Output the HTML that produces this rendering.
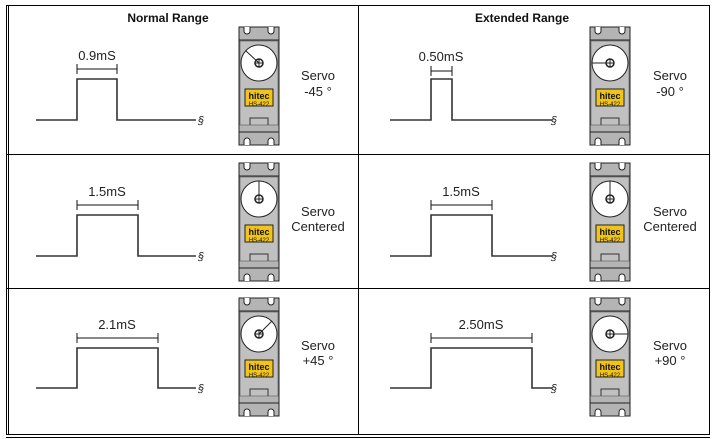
<!DOCTYPE html>
<html><head><meta charset="utf-8"><style>
html,body{margin:0;padding:0;background:#fff;}
svg{display:block;font-family:"Liberation Sans",Arial,sans-serif;}
</style></head><body>
<svg width="716" height="439" viewBox="0 0 716 439" xmlns="http://www.w3.org/2000/svg">
<defs>
<g id="servo">
  <rect x="0" y="0" width="40" height="118" fill="#b4b4b4" stroke="#222" stroke-width="1"/>
  <line x1="0" y1="13" x2="40" y2="13" stroke="#222"/>
  <line x1="0" y1="105" x2="40" y2="105" stroke="#222"/>
  <rect x="1" y="14" width="38" height="84" fill="#c0c0c0" stroke="#555" stroke-width="0.6"/>
  <path d="M11 98 V91 H29 V98" fill="none" stroke="#333" stroke-width="1"/>
  <path d="M5 0 v4 a3 3 0 0 0 6 0 v-4" fill="#fff" stroke="#222"/>
  <path d="M29 0 v4 a3 3 0 0 0 6 0 v-4" fill="#fff" stroke="#222"/>
  <path d="M5 118 v-4 a3 3 0 0 1 6 0 v4" fill="#fff" stroke="#222"/>
  <path d="M29 118 v-4 a3 3 0 0 1 6 0 v4" fill="#fff" stroke="#222"/>
  <circle cx="20" cy="36" r="18" fill="#fff" stroke="#222"/>
  <circle cx="20" cy="36" r="4" fill="#fff" stroke="#222" stroke-width="1.5"/>
  <line x1="16" y1="36" x2="24" y2="36" stroke="#222"/>
  <line x1="20" y1="32" x2="20" y2="40" stroke="#222"/>
  <rect x="6" y="62" width="28" height="17" fill="#f0c419" stroke="#222"/>
</g>
</defs>
<rect x="6.5" y="5.5" width="703" height="429" fill="none" stroke="#000"/>
<line x1="8.5" y1="6" x2="8.5" y2="434" stroke="#000"/>
<line x1="6" y1="437.5" x2="710" y2="437.5" stroke="#000"/>
<line x1="358.5" y1="5" x2="358.5" y2="434" stroke="#000"/>
<line x1="6" y1="154.5" x2="710" y2="154.5" stroke="#000"/>
<line x1="6" y1="288.5" x2="710" y2="288.5" stroke="#000"/>
<text x="168" y="22" font-size="12" font-weight="bold" text-anchor="middle" fill="#111">Normal Range</text>
<text x="522" y="22" font-size="12" font-weight="bold" text-anchor="middle" fill="#111">Extended Range</text>

<g fill="none" stroke="#333" stroke-width="1.6">
  <path d="M36 120 H77 V79 H117 V120 H196"/>
  <path d="M36 256 H77 V215 H138 V256 H196"/>
  <path d="M36 388 H77 V348 H158 V388 H196"/>
  <path d="M390 120 H431 V79 H452 V120 H552"/>
  <path d="M390 256 H431 V215 H492 V256 H552"/>
  <path d="M390 388 H431 V348 H532 V388 H552"/>
</g>
<g stroke="#111" stroke-width="1">
  <path d="M77 69 H117 M77 64 V74 M117 64 V74"/>
  <path d="M77 205 H138 M77 200 V210 M138 200 V210"/>
  <path d="M77 338 H158 M77 333 V343 M158 333 V343"/>
  <path d="M431 71 H452 M431 66 V76 M452 66 V76"/>
  <path d="M431 205 H492 M431 200 V210 M492 200 V210"/>
  <path d="M431 338 H532 M431 333 V343 M532 333 V343"/>
</g>
<g font-size="11" fill="#222" font-style="italic">
  <text x="198" y="124">§</text><text x="198" y="260">§</text><text x="198" y="392">§</text>
  <text x="551" y="124">§</text><text x="551" y="260">§</text><text x="551" y="392">§</text>
</g>
<g font-size="13" fill="#222" text-anchor="middle">
  <text x="97" y="60">0.9mS</text>
  <text x="107" y="196">1.5mS</text>
  <text x="117" y="329">2.1mS</text>
  <text x="441" y="61">0.50mS</text>
  <text x="461" y="196">1.5mS</text>
  <text x="481" y="329">2.50mS</text>
  <text x="318" y="80">Servo</text><text x="318" y="96">-45 °</text>
  <text x="318" y="216">Servo</text><text x="318" y="231">Centered</text>
  <text x="318" y="350">Servo</text><text x="318" y="365">+45 °</text>
  <text x="670" y="80">Servo</text><text x="670" y="96">-90 °</text>
  <text x="670" y="216">Servo</text><text x="670" y="231">Centered</text>
  <text x="670" y="350">Servo</text><text x="670" y="365">+90 °</text>
</g>

<use href="#servo" x="239" y="27"/>
<use href="#servo" x="239" y="163"/>
<use href="#servo" x="239" y="298"/>
<use href="#servo" x="590" y="27"/>
<use href="#servo" x="590" y="163"/>
<use href="#servo" x="590" y="298"/>
<g stroke="#222" stroke-width="1">
  <line x1="259" y1="63" x2="246" y2="51"/>
  <line x1="259" y1="199" x2="259" y2="181"/>
  <line x1="259" y1="334" x2="272" y2="321"/>
  <line x1="610" y1="63" x2="592" y2="63"/>
  <line x1="610" y1="199" x2="610" y2="181"/>
  <line x1="610" y1="334" x2="628" y2="334"/>
</g>
<g text-anchor="middle" fill="#111">
  <text x="259" y="99" font-size="9" font-weight="bold">hitec</text><text x="259" y="106" font-size="6">HS-422</text>
  <text x="259" y="235" font-size="9" font-weight="bold">hitec</text><text x="259" y="242" font-size="6">HS-422</text>
  <text x="259" y="370" font-size="9" font-weight="bold">hitec</text><text x="259" y="377" font-size="6">HS-422</text>
  <text x="610" y="99" font-size="9" font-weight="bold">hitec</text><text x="610" y="106" font-size="6">HS-422</text>
  <text x="610" y="235" font-size="9" font-weight="bold">hitec</text><text x="610" y="242" font-size="6">HS-422</text>
  <text x="610" y="370" font-size="9" font-weight="bold">hitec</text><text x="610" y="377" font-size="6">HS-422</text>
</g>
</svg>
</body></html>
